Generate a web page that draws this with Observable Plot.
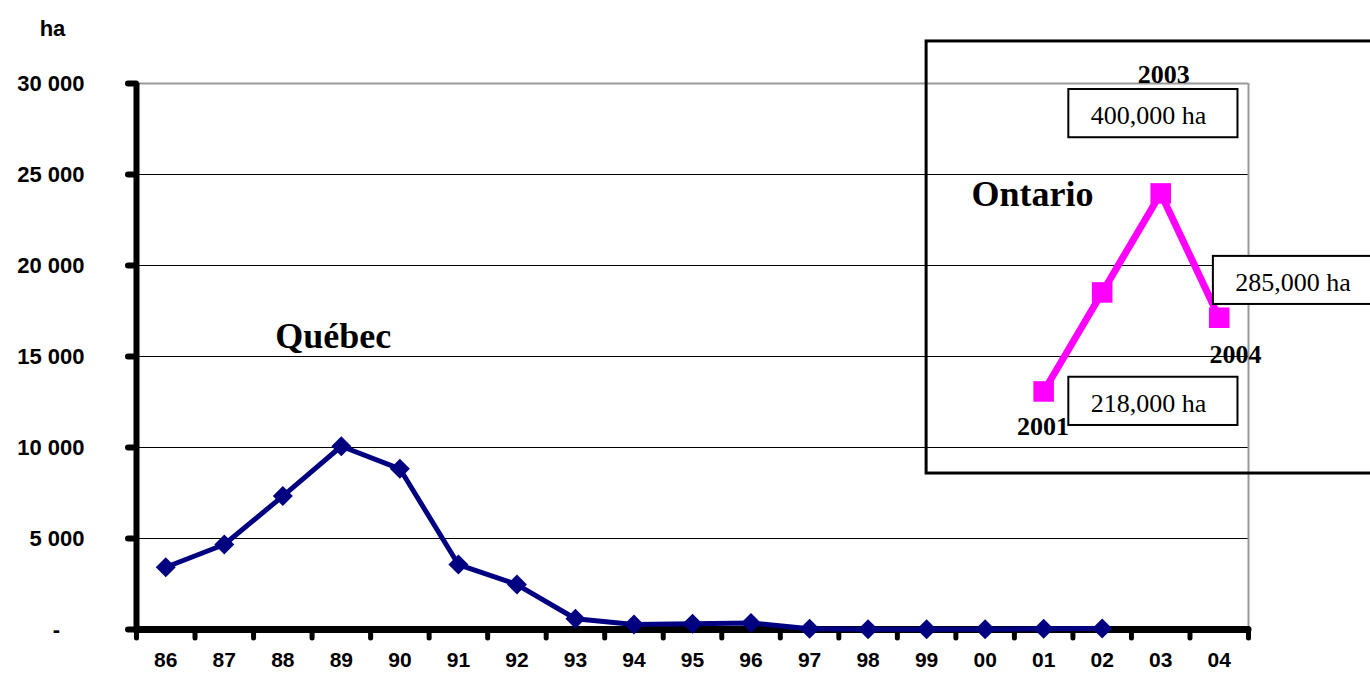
<!DOCTYPE html>
<html>
<head>
<meta charset="utf-8">
<script src="https://cdn.jsdelivr.net/npm/d3@7"></script>
<script src="https://cdn.jsdelivr.net/npm/@observablehq/plot@0.6"></script>
<style>
  body { margin: 0; background: #fff; }
  #chart svg { display: block; }
</style>
</head>
<body>
<div id="chart"></div>
<script>
// Categories (x axis)
const years = ["86","87","88","89","90","91","92","93","94","95","96","97","98","99","00","01","02","03","04"];

// Québec series (ha)
const quebecYears = ["86","87","88","89","90","91","92","93","94","95","96","97","98","99","00","01","02"];
const quebecValues = [3420, 4670, 7330, 10070, 8830, 3570, 2470, 590, 270, 310, 360, 40, 20, 20, 20, 40, 60];

// Ontario series (plotted values)
const ontarioYears = ["01","02","03","04"];
const ontarioValues = [13080, 18520, 23960, 17130];

// Y axis ticks and labels
const yTicks = [0, 5000, 10000, 15000, 20000, 25000, 30000];
const yTickLabels = ["-", "5 000", "10 000", "15 000", "20 000", "25 000", "30 000"];

// Inset frame (data space)
const insetX1 = [13], insetX2 = [22], insetY1 = [8570], insetY2 = [32310];

// Annotation boxes
const boxText = ["400,000 ha", "285,000 ha", "218,000 ha"];
const boxX1 = [15.43, 17.9, 15.43];
const boxX2 = [18.32, 21.5, 18.32];
const boxY1 = [27020, 17860, 11210];
const boxY2 = [29670, 20500, 13860];
const boxTextX = [16.79, 19.26, 16.79];
const boxTextY = [28240, 19040, 12420];

// Year labels on Ontario points
const yearLabel = ["2003", "2004", "2001"];
const yearLabelX = [17.05, 18.28, 14.99];
const yearLabelY = [30500, 15110, 11130];

// Region names
const regionLabel = ["Québec", "Ontario"];
const regionX = [2.86, 14.81];
const regionY = [16100, 23930];

const idx = y => years.indexOf(y);
const quebec = quebecYears.map((y, k) => ({i: idx(y), v: quebecValues[k]}));
const ontario = ontarioYears.map((y, k) => ({i: idx(y), v: ontarioValues[k]}));
const inset = insetX1.map((d, k) => ({x1: insetX1[k], x2: insetX2[k], y1: insetY1[k], y2: insetY2[k]}));
const boxes = boxText.map((t, k) => ({t, x1: boxX1[k], x2: boxX2[k], y1: boxY1[k], y2: boxY2[k], tx: boxTextX[k], ty: boxTextY[k]}));
const yearLabels = yearLabel.map((t, k) => ({t, x: yearLabelX[k], y: yearLabelY[k]}));
const regions = regionLabel.map((t, k) => ({t, x: regionX[k], y: regionY[k]}));
const xBounds = d3.range(years.length + 1).map(i => i - 0.5);
const gridValues = yTicks.filter(d => d > 0 && d < 30000);

const sans = "'Liberation Sans', Arial, sans-serif";
const serif = "'Liberation Serif', 'Times New Roman', serif";

const chart = Plot.plot({
  width: 1370,
  height: 675,
  marginLeft: 136,
  marginRight: 122,
  marginTop: 83,
  marginBottom: 46,
  style: {fontFamily: sans, background: "white", color: "black"},
  x: {type: "linear", domain: [-0.5, years.length - 0.5]},
  y: {domain: [0, 30000]},
  marks: [
    Plot.ruleY(gridValues, {stroke: "black", strokeWidth: 1}),
    Plot.ruleY([30000], {stroke: "#999", strokeWidth: 2}),
    Plot.ruleX([years.length - 0.5], {y1: 0, y2: 30000, stroke: "#999", strokeWidth: 2}),
    Plot.rect(inset, {x1: "x1", x2: "x2", y1: "y1", y2: "y2", fill: "none", stroke: "black", strokeWidth: 3}),
    Plot.ruleX([-0.5], {y1: 0, y2: 30000, stroke: "black", strokeWidth: 6}),
    Plot.axisY({ticks: yTicks, tickSize: 8, stroke: "black", strokeWidth: 6, strokeLinecap: "round", fill: "none", label: null}),
    Plot.axisX({ticks: xBounds, tickSize: 9, stroke: "black", strokeWidth: 5, strokeLinecap: "round", fill: "none", label: null}),
    Plot.ruleY([0], {stroke: "black", strokeWidth: 7, strokeLinecap: "round"}),
    Plot.axisY({ticks: yTicks, tickSize: 0, tickPadding: 52, label: null,
      tickFormat: d => { const s = yTickLabels[yTicks.indexOf(d)]; return s === "-" ? "-\u00a0\u00a0\u00a0\u00a0" : s; },
      fontSize: 22, fontWeight: "bold", fontFamily: sans, fill: "black"}),
    Plot.axisX({ticks: d3.range(years.length), tickSize: 0, tickPadding: 23, label: null,
      tickFormat: i => years[i], fontSize: 21, fontWeight: "bold", fontFamily: sans, fill: "black"}),
    Plot.text(["ha"], {frameAnchor: "top-left", dx: -84, dy: -55, textAnchor: "middle", lineAnchor: "middle",
      fontSize: 22, fontWeight: "bold", fontFamily: sans, fill: "black"}),
    Plot.line(quebec, {x: "i", y: "v", stroke: "#000080", strokeWidth: 5, strokeLinejoin: "round"}),
    Plot.dot(quebec, {x: "i", y: "v", symbol: "diamond2", r: 9, fill: "#000080", stroke: "none"}),
    Plot.line(ontario, {x: "i", y: "v", stroke: "#FF00FF", strokeWidth: 7}),
    Plot.dot(ontario, {x: "i", y: "v", symbol: "square", r: 11.6, fill: "#FF00FF", stroke: "none"}),
    Plot.rect(boxes, {x1: "x1", x2: "x2", y1: "y1", y2: "y2", fill: "white", stroke: "black", strokeWidth: 2}),
    Plot.text(boxes, {x: "tx", y: "ty", text: "t", fontSize: 26, fontFamily: serif, fill: "black"}),
    Plot.text(yearLabels, {x: "x", y: "y", text: "t", fontSize: 26, fontWeight: "bold", fontFamily: serif, fill: "black"}),
    Plot.text(regions, {x: "x", y: "y", text: "t", fontSize: 36, fontWeight: "bold", fontFamily: serif, fill: "black"})
  ]
});
document.getElementById("chart").appendChild(chart);
</script>
</body>
</html>
